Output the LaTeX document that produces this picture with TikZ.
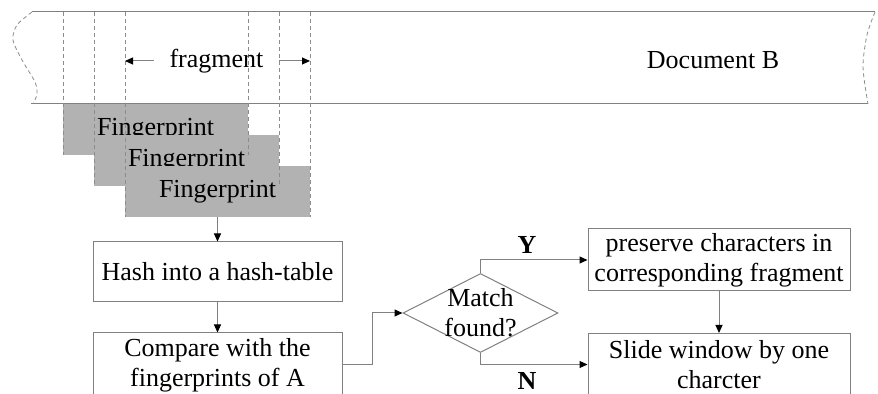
\documentclass[tikz,border=0pt]{standalone}
\usepackage{fontspec}
\setmainfont{Liberation Serif}
\usetikzlibrary{arrows.meta,shapes.geometric}
\begin{document}
\begin{tikzpicture}[x=0.5pt,y=-0.5pt,
  every node/.style={font=\fontsize{13pt}{15pt}\selectfont, align=center},
  ln/.style={draw=black!50, line width=0.5pt},
  dsh/.style={draw=black!45, line width=0.4pt, dash pattern=on 2pt off 1.5pt},
  arr/.style={ln, -{Triangle[length=4pt,width=3.5pt,color=black]}},
  fpbox/.style={rectangle, fill=black!30, inner sep=0, minimum width=92.5pt, minimum height=25.5pt},
  flowbox/.style={rectangle, ln, inner sep=0},
  lbl/.style={font=\fontsize{13pt}{15pt}\selectfont\bfseries}]
\useasboundingbox (0,0) rectangle (878,394);
\clip (0,0) rectangle (878,394);
\fill[white] (0,0) rectangle (878,394);
% document strip
\draw[ln] (32,12) -- (875,12);
\draw[ln] (31,104) -- (868,104);
\draw[dsh] plot[smooth] coordinates {(32,12) (17,25) (13,40) (22,60) (35,82) (37,94) (33,104)};
\draw[dsh] plot[smooth] coordinates {(875,12) (867,35) (863,67) (868,104)};
\node (docb) at (713,60) {Document B};
% fingerprint boxes
\node[fpbox] (fp1) at (155.5,129.5) {Fingerprint};
\node[fpbox] (fp2) at (186.5,160.5) {Fingerprint};
\node[fpbox] (fp3) at (217.5,191.5) {Fingerprint};
% dashed verticals
\draw[dsh] (63,12) -- (63,155);
\draw[dsh] (94,12) -- (94,186);
\draw[dsh] (125,12) -- (125,217);
\draw[dsh] (248,12) -- (248,155);
\draw[dsh] (279,12) -- (279,186);
\draw[dsh] (310,12) -- (310,217);
% fragment
\node[inner xsep=7.5pt] (frag) at (216.5,61) {fragment};
\coordinate (fl) at (125,61);
\coordinate (fr) at (310,61);
\draw[arr] (frag.west) -- (fl);
\draw[arr] (frag.east) -- (fr);
% flow
\node[flowbox, minimum width=124.5pt, minimum height=30pt] (hash) at (217.5,272) {Hash into a hash-table};
\node[flowbox, minimum width=124.5pt, minimum height=32pt] (cmp) at (217.5,365) {Compare with the\\fingerprints of A};
\node[diamond, ln, inner sep=0, minimum width=77.5pt, minimum height=39.5pt] (dia) at (480.5,313) {};
\node (dtxt) at (480.5,313) {Match\\found?};
\node[flowbox, minimum width=131pt, minimum height=31pt] (pres) at (719,260) {preserve characters in\\corresponding fragment};
\node[flowbox, minimum width=131pt, minimum height=31pt] (slide) at (719,364.5) {Slide window by one\\charcter};
\draw[arr] (fp3.south) -- (hash.north);
\draw[arr] (hash.south) -- (cmp.north);
\draw[arr] (cmp.east) -- ++(30,0) |- (dia.west);
\draw[arr] (dia.north) |- (pres.west);
\draw[arr] (dia.south) |- (slide.west);
\draw[arr] (pres.south) -- (slide.north);
\node[lbl] (y) at (527,245) {Y};
\node[lbl] (n) at (527,381) {N};
\end{tikzpicture}
\end{document}
